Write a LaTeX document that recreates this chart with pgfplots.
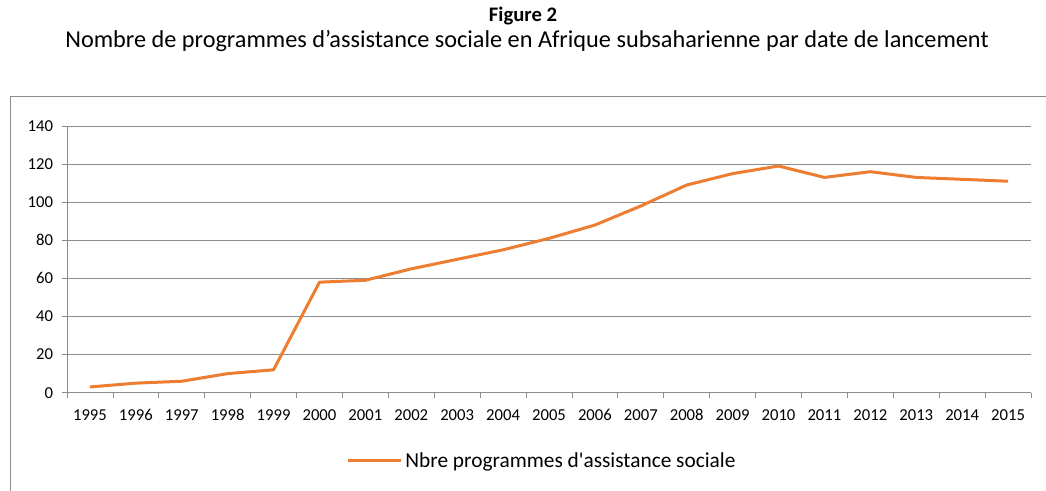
\documentclass[border=0pt]{standalone}
\usepackage{pgfplots}
\pgfplotsset{compat=1.18}
\usepackage{fontspec}
\setmainfont{Carlito}[Numbers=Lining]
\newfontfamily\plainfont{Carlito}[Numbers=Lining]
\definecolor{excelorange}{HTML}{ED7D31}
\definecolor{gridgray}{HTML}{8C8C8C}
\begin{document}
\begin{tikzpicture}
  % page = 1046x491 px, 1 px = 0.75pt, axis lower-left at pixel (67,392.7)
  \useasboundingbox (-50.25pt,-73.7pt) rectangle (734.25pt,294.5pt);
  \draw[gridgray, line width=0.6pt] (-42.75pt,-80pt) -- (-42.75pt,222.5pt) -- (740pt,222.5pt);
  \node[font=\fontsize{15.5}{17}\selectfont\bfseries] at (342pt,282.5pt) {Figure 2};
  \node[font=\fontsize{18.2}{20}\selectfont] at (345pt,264pt)
    {Nombre de programmes d’assistance sociale en Afrique subsaharienne par date de lancement};
  \begin{axis}[
      scale only axis,
      width=723pt, height=200pt,
      xmin=-0.5, xmax=20.5,
      ymin=0, ymax=140,
      ytick={0,20,...,140},
      xtick=data,
      xticklabels={1995,1996,1997,1998,1999,2000,2001,2002,2003,2004,2005,2006,2007,2008,2009,2010,2011,2012,2013,2014,2015},
      minor xtick={-0.5,0.5,...,20.5},
      major x tick style={draw=none},
      axis x line*=bottom,
      axis y line*=left,
      axis line style={gridgray, line width=0.6pt},
      tick style={gridgray, line width=0.6pt},
      tick align=outside,
      major tick length=4pt,
      minor tick length=4pt,
      ymajorgrids,
      grid style={gridgray, line width=0.6pt},
      ticklabel style={font=\fontsize{12.5}{14}\selectfont, text=black},
      /pgf/number format/assume math mode=true,
      xticklabel style={yshift=-4pt, text height=9pt, text depth=2pt},
      yticklabel style={xshift=-3pt},
      legend style={at={(0.493,-0.256)}, anchor=center, draw=none,
        font=\plainfont\fontsize{16}{18}\selectfont, legend columns=1},
      legend image code/.code={\draw[#1, line width=2.25pt] (0pt,0pt) -- (40pt,0pt);},
    ]
    \addplot[excelorange, line width=2.25pt, line join=round] coordinates {
      (0,3) (1,5) (2,6) (3,10) (4,12) (5,58) (6,59) (7,65) (8,70) (9,75) (10,81)
      (11,88) (12,98) (13,109) (14,115) (15,119) (16,113) (17,116) (18,113) (19,112) (20,111)};
    \addlegendentry{Nbre programmes d'assistance sociale}
  \end{axis}
\end{tikzpicture}
\end{document}
